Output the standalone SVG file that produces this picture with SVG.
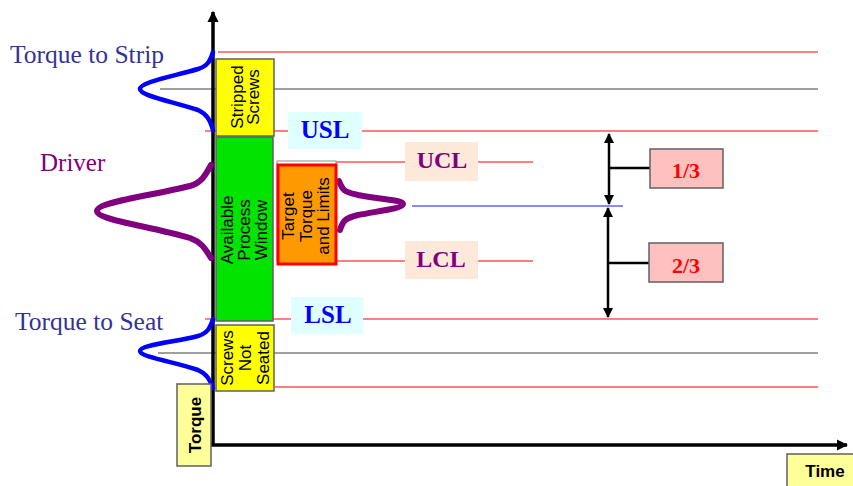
<svg xmlns="http://www.w3.org/2000/svg" width="853" height="486" viewBox="0 0 853 486">
<style>
.red{stroke:#ff8080;stroke-width:2;fill:none}
.gray{stroke:#808080;stroke-width:1.5;fill:none}
.ser{font-family:"Liberation Serif","Times New Roman",serif}
.sans{font-family:"Liberation Sans",Arial,sans-serif;font-size:17px;fill:#000;text-anchor:middle}
.lim{font-family:"Liberation Serif","Times New Roman",serif;font-weight:bold;text-anchor:middle}
.box{stroke:#606060;stroke-width:1.5}
.ax{stroke:#000;stroke-width:3.5;fill:none}
.dim{stroke:#000;stroke-width:2.5;fill:none}
</style>
<defs>
<marker id="ah" viewBox="0 0 10 10" refX="9" refY="5" markerWidth="4" markerHeight="4" orient="auto-start-reverse" markerUnits="strokeWidth">
<path d="M0,0 L10,5 L0,10 z" fill="#000"/>
</marker>
<marker id="axh" viewBox="0 0 10 10" refX="9" refY="5" markerWidth="3.2" markerHeight="3.2" orient="auto" markerUnits="strokeWidth">
<path d="M0,0 L10,5 L0,10 z" fill="#000"/>
</marker>
</defs>
<rect width="853" height="486" fill="#fff"/>
<g id="connectors">
<line class="red" x1="218" y1="52" x2="818" y2="52"/>
<line class="gray" x1="160" y1="89" x2="818" y2="89"/>
<line class="red" x1="205" y1="131" x2="818" y2="131"/>
<line class="red" x1="277" y1="162" x2="533" y2="162"/>
<line x1="412" y1="206" x2="623" y2="206" stroke="#6060ff" stroke-width="1.5"/>
<line class="red" x1="277" y1="261" x2="533" y2="261"/>
<line class="red" x1="205" y1="319" x2="818" y2="319"/>
<line class="gray" x1="158" y1="353" x2="818" y2="353"/>
<line class="red" x1="275" y1="387" x2="818" y2="387"/>
<line class="dim" x1="609" y1="134" x2="609" y2="204" marker-start="url(#ah)" marker-end="url(#ah)"/>
<line class="dim" x1="608" y1="208" x2="608" y2="317" marker-start="url(#ah)" marker-end="url(#ah)"/>
<line class="dim" x1="609" y1="168" x2="650" y2="168"/>
<line class="dim" x1="608" y1="263" x2="649" y2="263"/>
<path class="ax" d="M213,445 L213,12" marker-end="url(#axh)"/>
<path class="ax" d="M211,445 L847,445" marker-end="url(#axh)"/>
</g>
<g id="curves" fill="none" stroke-linecap="round">
<path d="M213,52 C210,62 207,66 198,69 C175,76 140,82 140,89 C140,96 175,102 198,110 C207,114 210,120 213,130" stroke="#0000ff" stroke-width="4.5"/>
<path d="M213,319 C210,329 207,333 198,336 C175,342 140,345 140,351 C140,357 175,362 198,370 C207,374 210,380 213,388" stroke="#0000ff" stroke-width="4.5"/>
<path d="M211,165 C205,176 201,183 190,186 C150,196 97,202 97,211 C97,220 150,226 190,238 C201,242 205,248 211,258" stroke="#800080" stroke-width="6"/>
<path d="M339,181 C343,192 346,192 358,195 C385,200 403,200 403,204 C403,208 385,210 358,215 C346,218 343,220 340,230" stroke="#800080" stroke-width="6"/>
</g>
<g id="stripped">
<rect class="box" x="216" y="59" width="58" height="77" fill="#ffff00"/>
<g transform="translate(245,97) rotate(-90)"><text class="sans" x="0" y="-2">Stripped</text><text class="sans" x="0" y="14">Screws</text></g>
</g>
<g id="window">
<rect class="box" x="216" y="137" width="57" height="184" fill="#00e400"/>
<g transform="translate(244,230) rotate(-90)"><text class="sans" x="0" y="-11">Available</text><text class="sans" x="0" y="6">Process</text><text class="sans" x="0" y="23">Window</text></g>
</g>
<g id="notseated">
<rect class="box" x="216" y="325" width="58" height="66" fill="#ffff00"/>
<g transform="translate(245,358) rotate(-90)"><text class="sans" x="0" y="-12">Screws</text><text class="sans" x="0" y="6">Not</text><text class="sans" x="0" y="24">Seated</text></g>
</g>
<g id="target">
<rect x="277" y="161" width="59" height="100" fill="#fff" stroke="#909090" stroke-width="1"/>
<rect x="278" y="165" width="58" height="99" fill="#ff9900" stroke="#ff0000" stroke-width="3"/>
<g transform="translate(306,216) rotate(-90)"><text class="sans" x="0" y="-12">Target</text><text class="sans" x="0" y="6">Torque</text><text class="sans" x="0" y="23">and Limits</text></g>
</g>
<g id="usl"><rect x="288" y="112" width="74" height="37" fill="#e0ffff"/><text class="lim" x="325" y="138" font-size="25" fill="#0000ff">USL</text></g>
<g id="lsl"><rect x="291" y="297" width="72" height="37" fill="#e0ffff"/><text class="lim" x="328" y="323" font-size="25" fill="#0000ff">LSL</text></g>
<g id="ucl"><rect x="405" y="142" width="73" height="39" fill="#fde9d9"/><text class="lim" x="442" y="168" font-size="24" fill="#800080">UCL</text></g>
<g id="lcl"><rect x="405" y="241" width="73" height="38" fill="#fde9d9"/><text class="lim" x="441" y="267" font-size="24" fill="#800080">LCL</text></g>
<g id="third1"><rect class="box" x="650" y="149" width="73" height="39" fill="#ffc0c0"/><text class="lim" x="686" y="178" font-size="22" fill="#ff0000">1/3</text></g>
<g id="third2"><rect class="box" x="649" y="243" width="74" height="39" fill="#ffc0c0"/><text class="lim" x="686" y="273" font-size="22" fill="#ff0000">2/3</text></g>
<g id="torque-axis"><rect class="box" x="177" y="384" width="34" height="82" fill="#ffff99"/><g transform="translate(194,425) rotate(-90)"><text class="sans" x="0" y="7" font-size="21" font-weight="bold">Torque</text></g></g>
<g id="time-axis"><rect class="box" x="787" y="454" width="70" height="36" fill="#ffff99"/><text class="sans" x="825" y="477" font-size="21" font-weight="bold">Time</text></g>
<g id="labels" class="ser" font-size="25.5">
<text x="10" y="63" fill="#333399">Torque to Strip</text>
<text x="40" y="171" fill="#800080" font-size="25">Driver</text>
<text x="15" y="330" fill="#333399">Torque to Seat</text>
</g>
</svg>
